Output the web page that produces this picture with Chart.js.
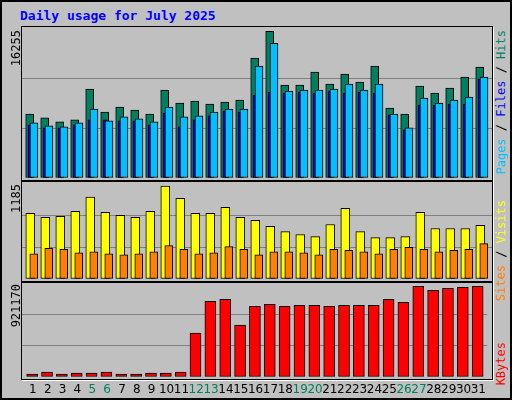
<!DOCTYPE html>
<html>
<head>
<meta charset="utf-8">
<script src="https://cdn.jsdelivr.net/npm/chart.js@4/dist/chart.umd.min.js"></script>
<style>
  body { margin:0; background:#fff; }
  #page { position:relative; width:508px; height:396px; background:#c0c0c0; border:2px solid #000; overflow:hidden;
          font-family:"DejaVu Sans Mono", monospace; font-size:12px; }
  #title { position:absolute; left:18px; top:6px; color:#0000ff; font-weight:bold; font-size:13px; }
  .frame { position:absolute; left:19px; width:470px; border:1px solid #000; box-shadow:1px 1px 0 #fff; }
  canvas { position:absolute; }
  .vt { position:absolute; writing-mode:vertical-rl; transform:rotate(180deg); white-space:nowrap; line-height:12px; }
</style>
</head>
<body>
<div id="page">
  <div id="title">Daily usage for July 2025</div>
  <div class="frame" style="top:24px;height:153px"></div>
  <div class="frame" style="top:179px;height:99px"></div>
  <div class="frame" style="top:280px;height:96px"></div>
  <canvas id="c1" style="left:20px;top:26px"></canvas>
  <canvas id="c2" style="left:20px;top:181px"></canvas>
  <canvas id="c3" style="left:20px;top:281px"></canvas>
  <div class="vt" style="left:8px;top:28px">16255</div>
  <div class="vt" style="left:8px;top:182px">1185</div>
  <div class="vt" style="left:8px;top:282px">921170</div>
  <div class="vt" style="left:493px;top:28px"><span style="color:#00c0ff">Pages</span> / <span style="color:#0000ff">Files</span> / <span style="color:#008060">Hits</span></div>
  <div class="vt" style="left:493px;top:198px"><span style="color:#ff8000">Sites</span> / <span style="color:#ffff00">Visits</span></div>
  <div class="vt" style="left:493px;top:340px"><span style="color:#ff0000">KBytes</span></div>
</div>
<script>
var days = [1,2,3,4,5,6,7,8,9,10,11,12,13,14,15,16,17,18,19,20,21,22,23,24,25,26,27,28,29,30,31];
var weekend = [5,6,12,13,19,20,26,27];
var hits = [6940,6509,6077,6293,9637,7156,7695,7372,6940,9529,8127,8343,8019,8235,8451,12982,15894,10069,10069,11471,10177,11256,10392,12119,7588,6940,9961,9206,9745,10932,12011];
var files = [5969,5646,5538,5969,7480,6185,6617,6401,6077,7695,6617,6725,7156,7480,7480,12119,14600,9422,9529,9529,9637,10177,9529,10177,6940,5430,8667,8127,8451,8774,10932];
var pages = [5754,5430,5430,5754,6293,6293,6185,6185,5754,7048,5538,6293,6725,7264,7156,8990,9314,9206,9314,9206,9422,9206,9314,9206,6832,5214,7911,7911,8019,8019,10716];
var visits = [837,786,799,863,1043,850,811,786,863,1185,1030,837,837,914,786,747,670,605,567,541,695,902,605,528,528,541,850,644,644,644,683];
var sites = [322,391,378,335,348,322,309,322,348,425,378,322,335,412,378,309,348,348,335,309,378,365,348,322,378,404,378,348,365,378,451];
var kbytes = [30366,50610,30366,40488,40488,50610,30366,30366,40488,40488,50610,445368,769272,789516,526344,718662,738906,718662,728784,728784,718662,728784,728784,728784,789516,759150,921170,880614,900858,910980,921170];

var W = 470;
function pts(vals, shift) {
    return vals.map(function (v, i) { return { x: days[i] + shift, y: v }; });
}
function bar(vals, shift, color, thick, order) {
    return { data: pts(vals, shift), backgroundColor: color, borderColor: '#000', borderWidth: 1,
             barThickness: thick, order: order, grouped: false, borderSkipped: false };
}
function yAxis(max) {
    return {
        min: 0, max: max,
        ticks: { display: false, stepSize: max / 3 },
        grid: { color: function (c) { return (c.index == 0 || c.index == 3) ? 'rgba(0,0,0,0)' : '#808080'; },
                drawTicks: false, lineWidth: 1 },
        border: { display: false },
        afterFit: function (s) { s.width = 0; }
    };
}
function xAxis(show) {
    return {
        type: 'linear', min: 0.267, max: 31.6, display: show, offset: false,
        grid: { display: false, drawTicks: false },
        border: { display: false },
        ticks: {
            padding: 6, autoSkip: false, maxRotation: 0, minRotation: 0,
            font: { family: 'DejaVu Sans', size: 12 },
            color: function (c) { return weekend.includes(c.tick.value) ? '#008060' : '#000'; },
            callback: function (v) { return v; }
        },
        afterBuildTicks: function (s) { s.ticks = days.map(function (d) { return { value: d }; }); },
        afterFit: function (s) { if (show) s.height = 26; }
    };
}
function makeChart(id, h, datasets, max, showX) {
    var cv = document.getElementById(id);
    cv.width = W; cv.height = h;
    cv.style.width = W + 'px';
    cv.style.height = h + 'px';
    return new Chart(cv, {
        type: 'bar',
        data: { datasets: datasets },
        options: {
            responsive: false, animation: false, devicePixelRatio: 1,
            layout: { padding: 0 },
            plugins: { legend: { display: false }, tooltip: { enabled: false } },
            scales: { x: xAxis(showX), y: yAxis(max) }
        }
    });
}

makeChart('c1', 150, [
    bar(hits, -0.22, '#008060', 8, 3),
    bar(pages, -0.2, '#0000ff', 4, 2),
    bar(files, 0.067, '#00c0ff', 8, 1)
], 16255, false);
makeChart('c2', 96, [
    bar(visits, -0.18, '#ffff00', 9, 2),
    bar(sites, 0.053, '#ff8000', 8, 1)
], 1224, false);
makeChart('c3', 120, [
    bar(kbytes, -0.047, '#ff0000', 11, 1)
], 954600, true);
</script>
</body>
</html>
